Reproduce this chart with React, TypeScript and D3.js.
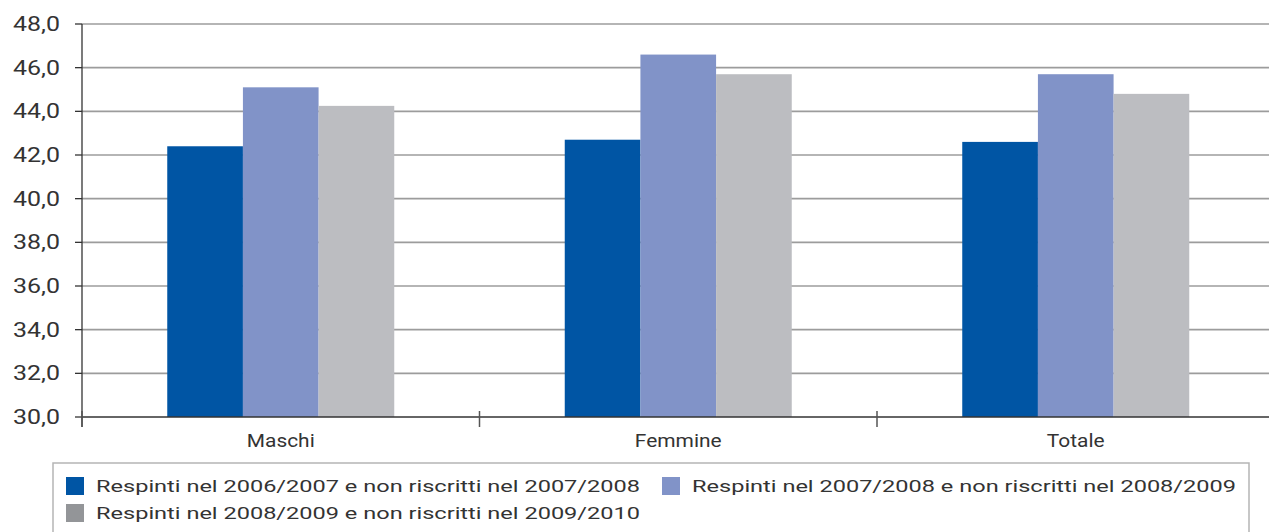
import React from "react";
import * as d3 from "d3";

const categories = ["Maschi", "Femmine", "Totale"];
const seriesNames = [
  "Respinti nel 2006/2007 e non riscritti nel 2007/2008",
  "Respinti nel 2007/2008 e non riscritti nel 2008/2009",
  "Respinti nel 2008/2009 e non riscritti nel 2009/2010",
];
const s2006 = [42.4, 42.7, 42.6];
const s2007 = [45.1, 46.6, 45.7];
const s2008 = [44.25, 45.7, 44.8];
const yTicks = [30, 32, 34, 36, 38, 40, 42, 44, 46, 48];

const barColors = ["#0055a4", "#8193c8", "#bcbdc1"];
const legendColors = ["#0055a4", "#8193c8", "#939598"];

export default function App() {
  const W = 1269, H = 532;
  const left = 82, top = 24, bottom = 417;
  const band = 397.5;
  const x = d3.scaleBand<string>().domain(categories).range([left, left + band * 3]).paddingInner(0).paddingOuter(0);
  const y = d3.scaleLinear().domain([30, 48]).range([bottom, top]);
  const groupW = 227;
  const x1 = d3.scaleBand<number>().domain([0, 1, 2]).range([0, groupW]);
  const series = [s2006, s2007, s2008];
  const font = "Roboto, 'DejaVu Sans', sans-serif";
  const fmt = (v: number) => v.toFixed(1).replace(".", ",");

  return (
    <svg width={W} height={H} style={{ position: "absolute", left: 0, top: 0 }}>
      <rect width={W} height={H} fill="#fff" />
      {yTicks.map((t) => (
        <g key={t}>
          {t !== 30 && <line x1={left} x2={W} y1={y(t)} y2={y(t)} stroke="#9c9c9c" strokeWidth={1.6} />}
          <line x1={left - 7} x2={left} y1={y(t)} y2={y(t)} stroke="#333" strokeWidth={1.3} />
          <text
            transform={`translate(60,${y(t)}) scale(1.28,1)`}
            dy="0.36em"
            textAnchor="end"
            fontFamily={font}
            fontSize={19.5}
            fill="#333"
          >
            {fmt(t)}
          </text>
        </g>
      ))}
      {categories.map((c, ci) => {
        const gx = (x(c) as number) + (band - groupW) / 2;
        return (
          <g key={c}>
            {series.map((s, si) => (
              <rect
                key={si}
                x={gx + (x1(si) as number)}
                y={y(s[ci])}
                width={x1.bandwidth()}
                height={bottom - y(s[ci])}
                fill={barColors[si]}
              />
            ))}
            <text
              transform={`translate(${(x(c) as number) + band / 2},447) scale(1.1,1)`}
              textAnchor="middle"
              fontFamily={font}
              fontSize={19}
              fill="#333"
            >
              {c}
            </text>
          </g>
        );
      })}
      <line x1={left} x2={left} y1={top} y2={427} stroke="#333" strokeWidth={1.3} />
      <line x1={left} x2={W} y1={bottom} y2={bottom} stroke="#333" strokeWidth={1.6} />
      {[0, 1, 2, 3].map((i) => (
        <line key={i} x1={left + band * i} x2={left + band * i} y1={411} y2={427} stroke="#555" strokeWidth={1.5} />
      ))}
      <rect x={53} y={463} width={1196} height={80} fill="none" stroke="#b5b5b5" strokeWidth={1.5} />
      {[
        { i: 0, sx: 66, sy: 477 },
        { i: 1, sx: 662, sy: 477 },
        { i: 2, sx: 66, sy: 504 },
      ].map(({ i, sx, sy }) => (
        <g key={i}>
          <rect x={sx} y={sy} width={18} height={18} fill={legendColors[i]} />
          <text x={sx + 30} y={sy + 9} dy="0.36em" fontFamily={font} fontSize={17} fill="#333" textLength={544} lengthAdjust="spacingAndGlyphs">
            {seriesNames[i]}
          </text>
        </g>
      ))}
    </svg>
  );
}
